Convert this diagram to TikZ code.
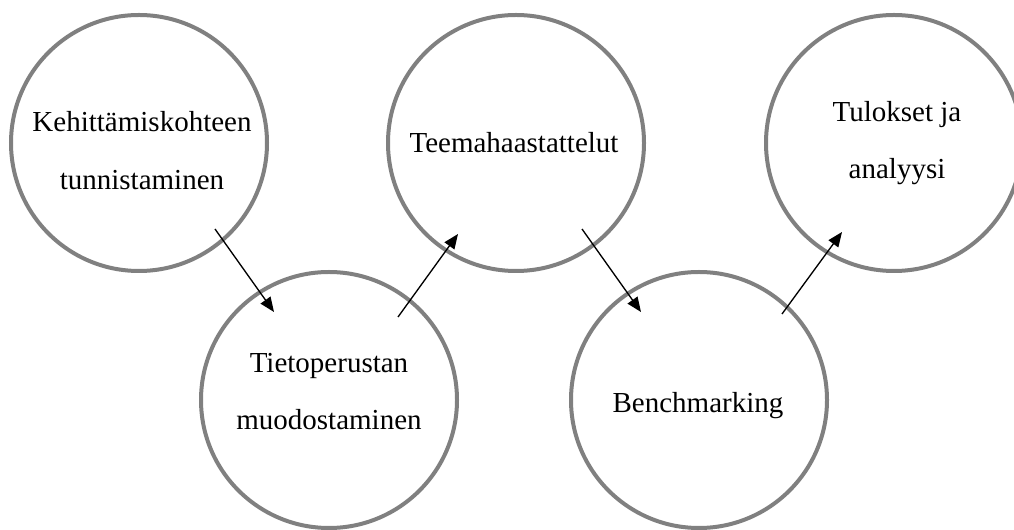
\documentclass[tikz,border=0pt]{standalone}
\usepackage{fontspec}
\setmainfont{Liberation Serif}
\usetikzlibrary{arrows.meta}
\definecolor{ringgray}{RGB}{128,128,128}
\tikzset{
  phase/.style={circle,draw=ringgray,line width=3pt,minimum size=192pt,inner sep=0pt},
  phasetext/.style={anchor=base,inner sep=0pt,font=\fontsize{21.75pt}{26pt}\selectfont},
  flow/.style={line width=1pt,-{Triangle[length=11pt,width=9pt]}}
}

\begin{document}
\begin{tikzpicture}[x=0.75pt,y=-0.75pt]
\useasboundingbox (0,0) rectangle (1014,530);
\clip (0,0) rectangle (1014,530);
% circles
\node[phase] (c1) at (139,143) {};
\node[phase] (c2) at (329,400) {};
\node[phase] (c3) at (516,143) {};
\node[phase] (c4) at (699,400) {};
\node[phase] (c5) at (894,143) {};
% texts
\node[phasetext] (t1a) at (142,132) {Kehittämiskohteen};
\node[phasetext] (t1b) at (142,190) {tunnistaminen};
\node[phasetext] (t2a) at (329,373) {Tietoperustan};
\node[phasetext] (t2b) at (329,430) {muodostaminen};
\node[phasetext] (t3) at (514,153) {Teemahaastattelut};
\node[phasetext] (t4) at (698,413) {Benchmarking};
\node[phasetext] (t5a) at (897,122) {Tulokset ja};
\node[phasetext] (t5b) at (897,179) {analyysi};
% arrows
\coordinate (s1) at (215,229); \coordinate (e1) at (274,312);
\coordinate (s2) at (398,317); \coordinate (e2) at (458,234);
\coordinate (s3) at (582,229); \coordinate (e3) at (641,312);
\coordinate (s4) at (782,314); \coordinate (e4) at (842,232);
\foreach \i in {1,2,3,4}
\draw[flow] (s\i) -- (e\i);
\end{tikzpicture}
\end{document}
